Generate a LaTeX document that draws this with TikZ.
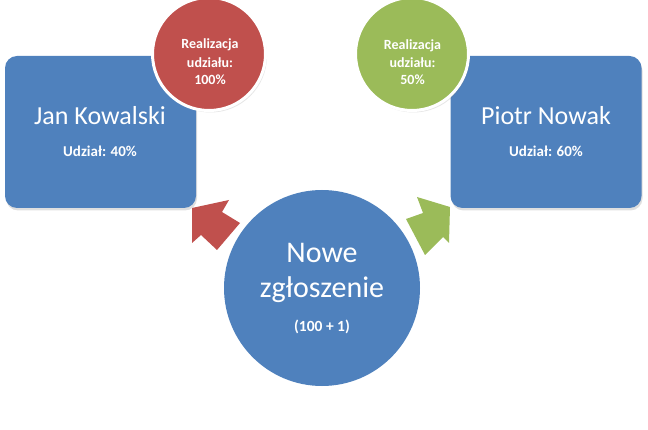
\documentclass[tikz,border=0pt]{standalone}
\usepackage{fontspec}
\setmainfont{Carlito}
\usetikzlibrary{shadows}
\definecolor{Blue}{HTML}{4F81BD}
\definecolor{Red}{HTML}{C0504D}
\definecolor{Green}{HTML}{9BBB59}

\begin{document}
\begin{tikzpicture}[x=1pt,y=-1pt,
box/.style={fill=Blue,rounded corners=12pt,minimum width=191pt,minimum height=152pt,inner sep=0pt,
  drop shadow={opacity=0.25,shadow xshift=1pt,shadow yshift=-2.5pt}},
share/.style={circle,draw=white,line width=3pt,minimum size=113pt,inner sep=0pt,
  drop shadow={opacity=0.2,shadow xshift=1.5pt,shadow yshift=-2pt}},
big/.style={circle,fill=Blue,minimum size=196pt,inner sep=0pt},
bigtext/.style={text=white,anchor=base,inner sep=0pt,font=\fontsize{26}{30}\selectfont},
small/.style={text=white,anchor=base,inner sep=0pt,font=\bfseries\fontsize{14}{17}\selectfont}]
\useasboundingbox (0,0) rectangle (648,430);
% osoby
\node[box] (jan) at (100.5,132) {};
\node[box] (piotr) at (546,132) {};
\node[bigtext] (jann) at (100,125) {Jan Kowalski};
\node[small,font=\bfseries\fontsize{15}{18}\selectfont] (janu) at (100,157) {Udział: 40\%};
\node[bigtext] (piotrn) at (546,125) {Piotr Nowak};
\node[small,font=\bfseries\fontsize{15}{18}\selectfont] (piotru) at (546,157) {Udział: 60\%};
% realizacja
\node[share,fill=Red] (rjan) at (209,54) {};
\node[small] (rjan1) at (210,49) {Realizacja};
\node[small] (rjan2) at (210,68) {udziału:};
\node[small] (rjan3) at (210,85) {100\%};
\node[share,fill=Green] (rpiotr) at (412,54) {};
\node[small] (rpiotr1) at (412.5,50) {Realizacja};
\node[small] (rpiotr2) at (412.5,68) {udziału:};
\node[small] (rpiotr3) at (412.5,85) {50\%};
% strzalki
\fill[Red] (192,208) -- (229,200) -- (222,212) -- (240,223) -- (217,250) -- (201,235) -- (192,243) -- cycle;
\fill[Green] (450,207) -- (449,243) -- (443,237) -- (425,255) -- (406,219) -- (423,213) -- (417,197) -- cycle;
% zgloszenie
\node[big] (nowe) at (322,288) {};
\node[bigtext,font=\fontsize{30}{34}\selectfont] (nowe1) at (322,263) {Nowe};
\node[bigtext,font=\fontsize{30}{34}\selectfont] (nowe2) at (322,298) {zgłoszenie};
\node[small,font=\bfseries\fontsize{15.5}{18}\selectfont] (nowe3) at (322,332) {(100 + 1)};
\end{tikzpicture}
\end{document}
